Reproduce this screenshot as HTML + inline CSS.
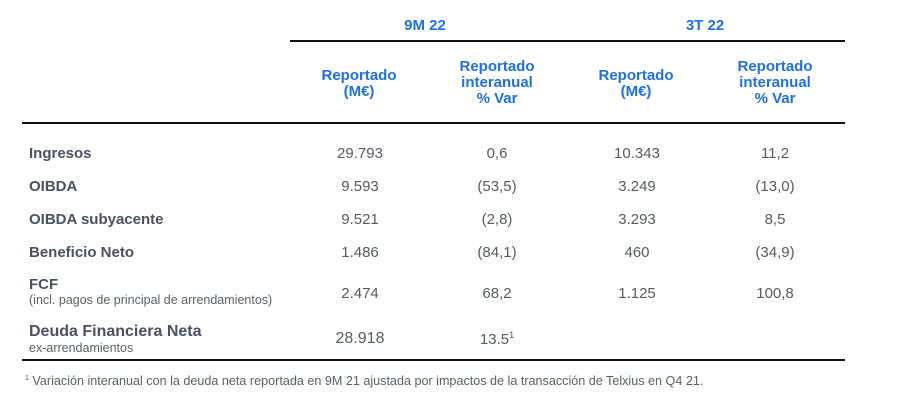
<!DOCTYPE html>
<html><head><style>
body{margin:0;width:908px;height:416px;background:#fff;position:relative;font-family:"Liberation Sans",sans-serif;overflow:hidden}
.a{position:absolute;white-space:nowrap}
.h{color:#1f6fe5;font-weight:bold;font-size:15px;text-align:center;line-height:16px;transform:translateX(-50%)}
.l{color:#4a5163;font-weight:bold;font-size:15px;left:29px}
.s{color:#5a5f6a;font-size:12.5px;left:29px}
.v{color:#555a63;font-size:15px;transform:translateX(-50%)}
.line{position:absolute;background:#111;height:2px}
</style></head><body>
<div class="a h" style="left:425px;top:18px">9M 22</div>
<div class="a h" style="left:705px;top:18px">3T 22</div>
<div class="line" style="left:290px;width:555px;top:40px"></div>
<div class="a h" style="left:359px;top:68px">Reportado<br>(M€)</div>
<div class="a h" style="left:497px;top:59px">Reportado<br>interanual<br>% Var</div>
<div class="a h" style="left:636px;top:68px">Reportado<br>(M€)</div>
<div class="a h" style="left:775px;top:59px">Reportado<br>interanual<br>% Var</div>
<div class="line" style="left:22px;width:823px;top:122px"></div>

<div class="a l" style="top:145px">Ingresos</div>
<div class="a v" style="left:360px;top:145px">29.793</div><div class="a v" style="left:497px;top:145px">0,6</div><div class="a v" style="left:637px;top:145px">10.343</div><div class="a v" style="left:775px;top:145px">11,2</div>

<div class="a l" style="top:178px">OIBDA</div>
<div class="a v" style="left:360px;top:178px">9.593</div><div class="a v" style="left:497px;top:178px">(53,5)</div><div class="a v" style="left:637px;top:178px">3.249</div><div class="a v" style="left:775px;top:178px">(13,0)</div>

<div class="a l" style="top:211px">OIBDA subyacente</div>
<div class="a v" style="left:360px;top:211px">9.521</div><div class="a v" style="left:497px;top:211px">(2,8)</div><div class="a v" style="left:637px;top:211px">3.293</div><div class="a v" style="left:775px;top:211px">8,5</div>

<div class="a l" style="top:244px">Beneficio Neto</div>
<div class="a v" style="left:360px;top:244px">1.486</div><div class="a v" style="left:497px;top:244px">(84,1)</div><div class="a v" style="left:637px;top:244px">460</div><div class="a v" style="left:775px;top:244px">(34,9)</div>

<div class="a l" style="top:276px">FCF</div>
<div class="a s" style="top:293px">(incl. pagos de principal de arrendamientos)</div>
<div class="a v" style="left:360px;top:285px">2.474</div><div class="a v" style="left:497px;top:285px">68,2</div><div class="a v" style="left:637px;top:285px">1.125</div><div class="a v" style="left:775px;top:285px">100,8</div>

<div class="a l" style="top:323px;font-size:16px">Deuda Financiera Neta</div>
<div class="a s" style="top:341px">ex-arrendamientos</div>
<div class="a v" style="left:360px;top:330px;font-size:16px">28.918</div><div class="a v" style="left:497px;top:330px">13.5<sup style="font-size:9px">1</sup></div>

<div class="line" style="left:22px;width:823px;top:359px"></div>
<div class="a" style="left:25px;top:374px;font-size:12.6px;color:#5a5f6a"><sup style="font-size:7px">1</sup> Variación interanual con la deuda neta reportada en 9M 21 ajustada por impactos de la transacción de Telxius en Q4 21.</div>
</body></html>
